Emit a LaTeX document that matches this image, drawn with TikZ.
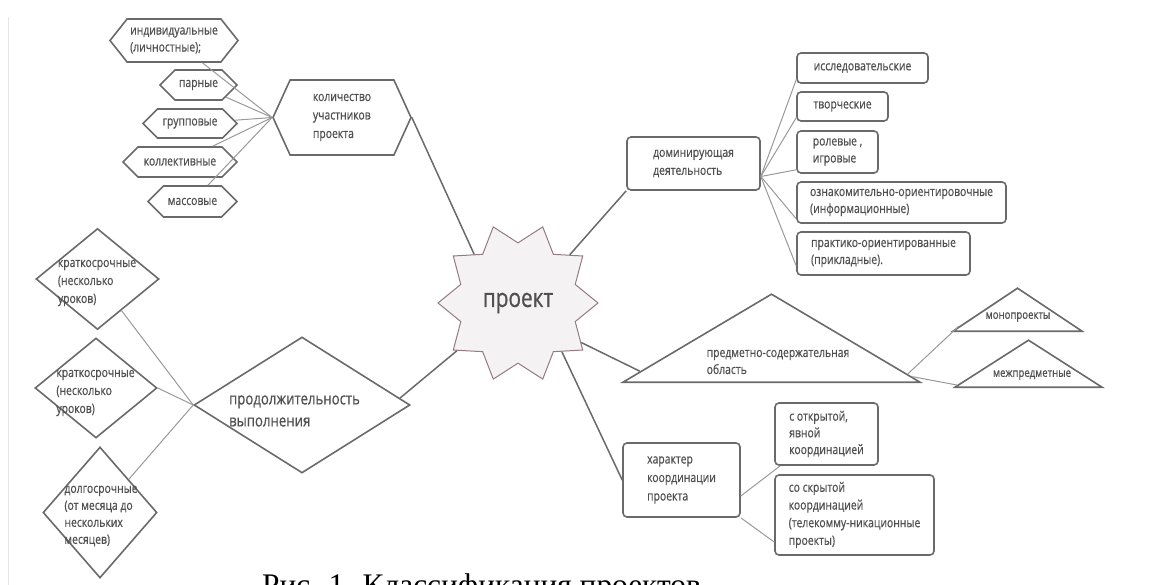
\documentclass[tikz,border=0pt]{standalone}
\usepackage{fontspec}
\setmainfont{Liberation Serif}
\newfontfamily\diafont[FakeStretch=0.8, FakeBold=0.6]{Open Sans}
\usetikzlibrary{calc,shapes.geometric,shapes.symbols}

\definecolor{inkgray}{HTML}{505050}
\definecolor{edgegray}{HTML}{6A6A6A}
\definecolor{wiregray}{HTML}{999999}
\definecolor{starfill}{HTML}{F4F2F3}
\definecolor{staredge}{HTML}{957A80}

\begin{document}
\begin{tikzpicture}[x=1pt, y=-1pt,
    txt/.style={text=inkgray, font=\diafont\fontsize{13}{17}\selectfont, align=left, inner sep=0pt},
    hexa/.style={txt, draw=edgegray, line width=1.6pt, signal, signal to=west and east, signal pointer angle=90},
    rbox/.style={txt, draw=edgegray, line width=1.6pt, rounded corners=4pt},
    term/.style={draw=edgegray, line width=1.6pt, diamond, inner sep=0pt},
    tri/.style={draw=edgegray, line width=1.6pt, isosceles triangle, isosceles triangle stretches, shape border rotate=90, inner sep=0pt},
    link/.style={draw=edgegray, line width=1.5pt},
    twig/.style={draw=wiregray, line width=1pt}]
    \useasboundingbox (0,0) rectangle (1153,585);
    \clip (0,0) rectangle (1153,585);
    \draw[gray!20, line width=1pt] (8,17) -- (8,585);

    % participants
    \node[hexa, minimum width=128, minimum height=43, signal pointer angle=103] (ind) at (174,40.5) {индивидуальные\\(личностные);};
    \node[hexa, minimum width=77, minimum height=30] (pair) at (198.5,85) {парные};
    \node[hexa, minimum width=94, minimum height=29] (grp) at (190,123.5) {групповые};
    \node[hexa, minimum width=114, minimum height=30] (coll) at (180,162) {коллективные};
    \node[hexa, minimum width=89, minimum height=31] (mass) at (192.5,201.5) {массовые};
    \node[hexa, minimum width=138, minimum height=75, signal pointer angle=131, font=\diafont\fontsize{13}{18.5}\selectfont] (cnt) at (342,117.5) {количество\\участников\\проекта};

    % activity
    \node[rbox, minimum width=133, minimum height=53, font=\diafont\fontsize{13}{18}\selectfont] (dom) at (693.5,163.5) {доминирующая\\деятельность};
    \node[rbox, minimum width=131, minimum height=30] (res) at (862.5,68) {исследовательские};
    \node[rbox, minimum width=91, minimum height=29] (cre) at (842.5,106.5) {творческие};
    \node[rbox, minimum width=81, minimum height=42] (role) at (837.5,152) {ролевые ,\\игровые};
    \node[rbox, minimum width=209, minimum height=41] (info) at (901.5,202.5) {ознакомительно-ориентировочные\\(информационные)};
    \node[rbox, minimum width=173, minimum height=43] (prac) at (883.5,253.5) {практико-ориентированные\\(прикладные).};

    % centre
    \node[star, star points=10, star point ratio=1.33, shape border rotate=18, minimum size=160, fill=starfill, draw=staredge, line width=1pt, text=inkgray, font=\diafont\fontsize{26}{30}\selectfont] (proj) at (518,303) {проект};

    % subject area
    \node[tri, minimum width=297, minimum height=88, anchor=lower side] (subj) at (771.5,383) {};
    \node[tri, minimum width=129, minimum height=43, anchor=lower side] (mono) at (1017.5,332) {};
    \node[tri, minimum width=147, minimum height=47, anchor=lower side] (inter) at (1028.5,388) {};
    \node[txt] (subjt) at (778,362) {предметно-содержательная\\область};
    \node[txt, font=\diafont\fontsize{12}{16}\selectfont] (monot) at (1018,317) {монопроекты};
    \node[txt, font=\diafont\fontsize{12}{16}\selectfont] (intert) at (1032,375) {межпредметные};

    % duration
    \node[term, minimum width=123, minimum height=101] (shortA) at (97.5,279) {};
    \node[term, minimum width=122, minimum height=100] (shortB) at (96,388) {};
    \node[term, minimum width=114, minimum height=131] (long) at (100,512.5) {};
    \node[term, minimum width=216, minimum height=136] (dur) at (302,405) {};
    \node[txt, font=\diafont\fontsize{13}{18}\selectfont] (shortAt) at (97,283) {краткосрочные\\(несколько\\уроков)};
    \node[txt, font=\diafont\fontsize{13}{18}\selectfont] (shortBt) at (95.5,393) {краткосрочные\\(несколько\\уроков)};
    \node[txt, font=\diafont\fontsize{13}{17}\selectfont] (longt) at (101,516) {долгосрочные\\(от месяца до\\нескольких\\месяцев)};
    \node[txt, font=\diafont\fontsize{16.5}{22}\selectfont] (durt) at (294.5,411) {продолжительность\\выполнения};

    % coordination
    \node[rbox, minimum width=117, minimum height=74, font=\diafont\fontsize{13}{18.5}\selectfont] (char) at (681.5,480) {характер\\координации\\проекта};
    \node[rbox, minimum width=103, minimum height=62, font=\diafont\fontsize{13}{16.7}\selectfont] (open) at (826.5,434) {с открытой,\\явной\\координацией};
    \node[rbox, minimum width=159, minimum height=80, font=\diafont\fontsize{13}{17.7}\selectfont] (hidden) at (854.5,515) {со скрытой\\координацией\\(телекомму-никационные\\проекты)};

    \node[anchor=base west, inner sep=0pt, font=\fontsize{31.4}{36}\selectfont] (caption) at (262,595) {Рис. 1. Классификация проектов};

    % connectors
    \draw[twig] (ind) -- (cnt.west);
    \draw[twig] (pair) -- (cnt.west);
    \draw[twig] (grp) -- (cnt.west);
    \draw[twig] (coll) -- (cnt.west);
    \draw[twig] (mass) -- (cnt.west);
    \draw[link] (cnt.east) -- (proj.132);
    \draw[link] (proj.43) -- (dom.south west);
    \draw[twig] ([yshift=-13pt]dom.east) -- ([yshift=4pt]res.south west);
    \draw[twig] ([yshift=-13pt]dom.east) -- ([yshift=4pt]cre.south west);
    \draw[twig] ([yshift=-13pt]dom.east) -- ([yshift=4pt]role.south west);
    \draw[twig] ([yshift=-13pt]dom.east) -- ([yshift=5pt]info.south west);
    \draw[twig] ([yshift=-13pt]dom.east) -- ([yshift=10pt]prac.south west);
    \draw[link] (proj.-32) -- ($(subj.left corner)!0.13!(subj.apex)$);
    \draw[twig] ($(subj.right corner)!0.1!(subj.apex)$) -- ($(mono.left corner)!0.12!(mono.apex)$);
    \draw[twig] ($(subj.right corner)!0.07!(subj.apex)$) -- ($(inter.left corner)!0.06!(inter.apex)$);
    \draw[link] (proj.218) -- ($(dur.north)!0.9!(dur.east)$);
    \draw[twig] (shortA) -- (dur.west);
    \draw[twig] (shortB.east) -- (dur.west);
    \draw[twig] (long) -- (dur.west);
    \draw[link] (proj.-48) -- (char.west);
    \draw[twig] ([yshift=-16pt]char.east) -- ([xshift=6pt]open.south west);
    \draw[twig] (char.south east) -- ([yshift=-27pt]hidden.west);
\end{tikzpicture}
\end{document}
